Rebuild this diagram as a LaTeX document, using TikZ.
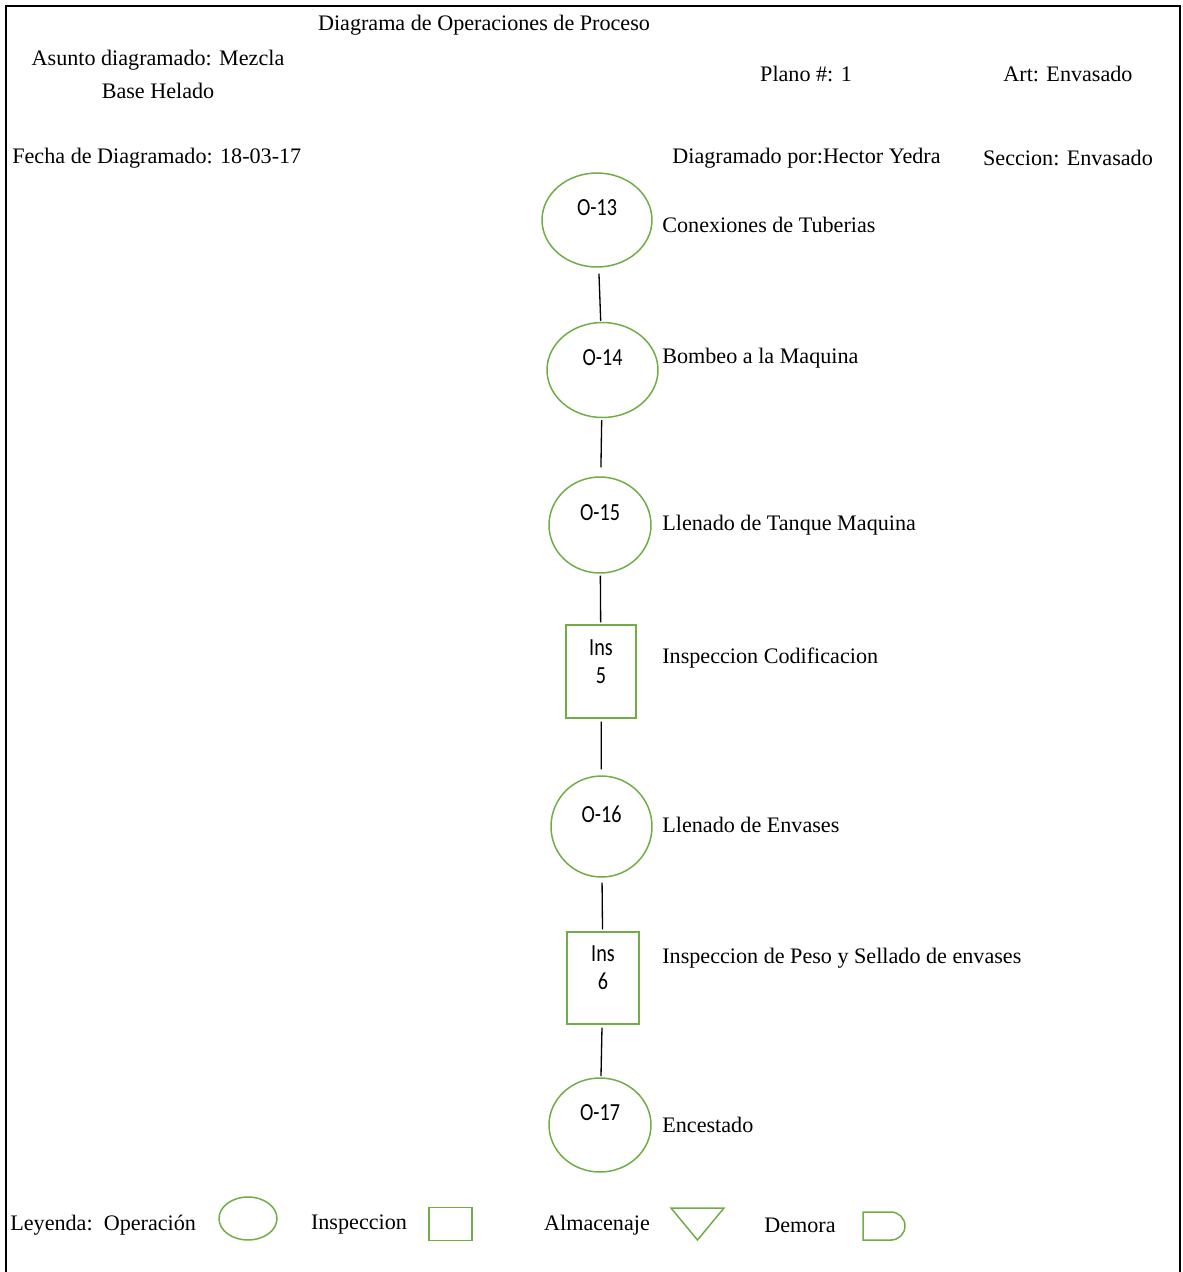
\documentclass[tikz,border=0pt]{standalone}
\usepackage{fontspec}
\setmainfont{Liberation Serif}
\newfontfamily\symfont[FakeStretch=0.82]{Carlito}
\usepackage{tikz}
\usetikzlibrary{shapes.geometric}
\definecolor{opgreen}{HTML}{70AD47}

\begin{document}
\begin{tikzpicture}[x=0.02cm, y=-0.02cm,
  every node/.style={font=\fontsize{12.6}{15}\selectfont, inner sep=0pt},
  opnode/.style={ellipse, draw=opgreen, line width=0.85pt, minimum width=2.04cm, minimum height=1.92cm},
  insnode/.style={rectangle, draw=opgreen, line width=0.85pt, minimum width=1.4cm, minimum height=1.86cm},
  oplabel/.style={font=\symfont\fontsize{14}{16}\selectfont, yshift=0.24cm},
  inslabel/.style={font=\symfont\fontsize{14}{15.9}\selectfont, align=center, yshift=0.2cm},
  desc/.style={anchor=west},
  link/.style={line width=0.75pt}]
  \useasboundingbox (0,0) rectangle (1183,1272);
  \draw[line width=1.4pt] (6,1272) -- (6,6) -- (1180,6) -- (1180,1272);

  \node (title) at (484,25) {Diagrama de Operaciones de Proceso};
  \node[align=center, font=\fontsize{12.6}{18.7}\selectfont] (asunto) at (158,74) {Asunto diagramado: Mezcla\\Base Helado};
  \node (plano) at (806,74) {Plano \#: 1};
  \node (art) at (1068,74) {Art: Envasado};
  \node[anchor=west] (fecha) at (12,158) {Fecha de Diagramado: 18-03-17};
  \node (por) at (806.5,158) {Diagramado por:Hector Yedra};
  \node (seccion) at (1068,158) {Seccion: Envasado};

  \node[opnode, minimum width=2.2cm, minimum height=1.88cm, label={[oplabel]center:O-13}] (o13) at (597,220) {};
  \node[desc] (t13) at (662,225) {Conexiones de Tuberias};
  \node[opnode, minimum width=2.22cm, minimum height=1.9cm, label={[oplabel]center:O-14}] (o14) at (602.5,370) {};
  \node[desc] (t14) at (662,358) {Bombeo a la Maquina};
  \node[opnode, label={[oplabel]center:O-15}] (o15) at (600,525) {};
  \node[desc] (t15) at (662,525) {Llenado de Tanque Maquina};
  \node[insnode, label={[inslabel]center:Ins\\5}] (i5) at (601,671.5) {};
  \node[desc] (ti5) at (662,658) {Inspeccion Codificacion};
  \node[opnode, minimum width=2.02cm, minimum height=2.02cm, label={[oplabel]center:O-16}] (o16) at (601.5,826.5) {};
  \node[desc] (t16) at (662,825) {Llenado de Envases};
  \node[insnode, minimum width=1.44cm, minimum height=1.84cm, label={[inslabel]center:Ins\\6}] (i6) at (603,978) {};
  \node[desc] (ti6) at (662,958) {Inspeccion de Peso y Sellado de envases};
  \node[opnode, minimum height=1.88cm, label={[oplabel]center:O-17}] (o17) at (600,1125) {};
  \node[desc] (t17) at (662,1125) {Encestado};

  \foreach \a/\b/\s/\e in {o13/o14/3.4pt/0.6pt, o14/o15/1.1pt/5.1pt, o15/i5/1.1pt/1.1pt,
                           i5/o16/1.7pt/3.4pt, o16/i6/2.8pt/1.1pt, i6/o17/1.7pt/0.6pt}
    \draw[link, shorten <=\s, shorten >=\e] (\a) -- (\b);

  \node[anchor=west] (leyenda) at (10,1225) {Leyenda:\ \ Operación};
  \node[ellipse, draw=opgreen, line width=0.85pt, minimum width=1.16cm, minimum height=0.86cm] (leyop) at (248,1218.5) {};
  \node (leyins) at (359,1225) {Inspeccion};
  \node[draw=opgreen, line width=0.85pt, minimum width=0.86cm, minimum height=0.66cm] (leysq) at (450.5,1224) {};
  \node (leyalm) at (597,1225) {Almacenaje};
  \draw[opgreen, line width=0.85pt] (671,1208) -- (724,1208) -- (697.5,1240) -- cycle;
  \node (leydem) at (800,1225) {Demora};
  \draw[opgreen, line width=0.85pt] (891,1240) -- (863,1240) -- (863,1212) -- (891,1212) arc (90:-90:0.28cm) -- cycle;
\end{tikzpicture}
\end{document}
